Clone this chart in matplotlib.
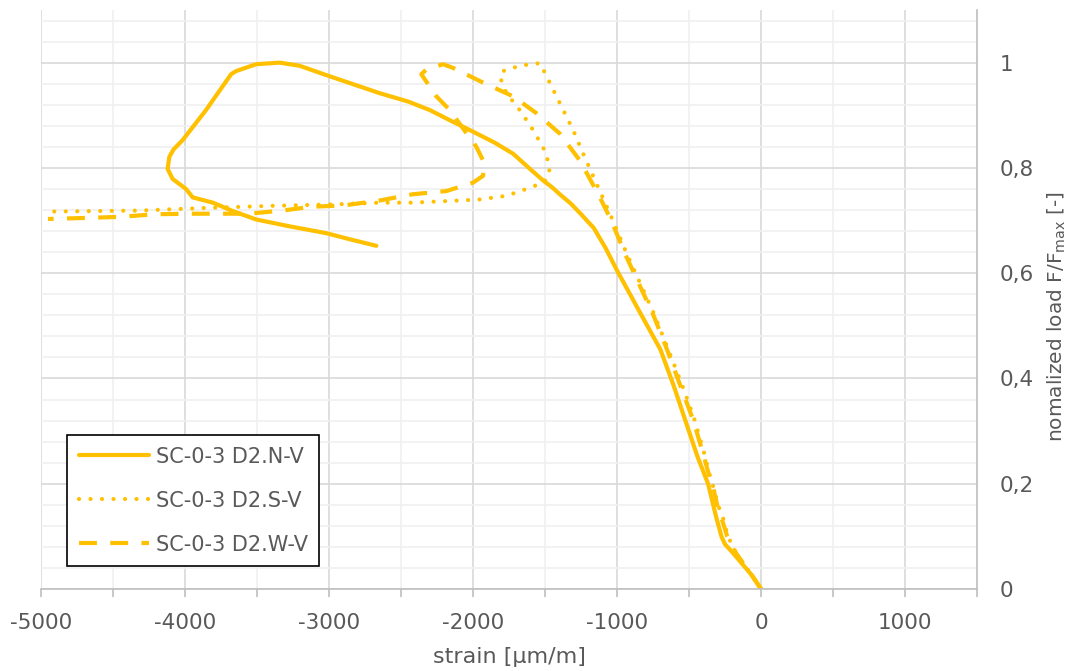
import matplotlib
matplotlib.use("Agg")
import matplotlib.pyplot as plt
from matplotlib.ticker import MultipleLocator, FuncFormatter

# strain [µm/m] vs normalized load
nv_x = [0, -60, -132, -200, -250, -274, -312, -368, -442, -512, -605, -699,
        -838, -1000, -1080, -1162, -1250, -1320, -1394, -1450, -1513, -1600, -1722, -1850,
        -2023, -2150, -2301, -2450, -2649, -2800, -2995, -3204, -3343, -3506, -3645, -3680,
        -3854, -4016, -4080, -4109, -4121, -4086, -3993, -3947, -3807, -3668, -3506, -3274,
        -3019, -2850, -2671]
nv_y = [0, 0.025, 0.048, 0.07, 0.085, 0.099, 0.137, 0.20, 0.252, 0.309, 0.385, 0.455,
        0.524, 0.605, 0.648, 0.686, 0.712, 0.732, 0.749, 0.763, 0.776, 0.797, 0.827, 0.848,
        0.872, 0.889, 0.910, 0.926, 0.942, 0.956, 0.974, 0.994, 1.0, 0.997, 0.984, 0.978,
        0.910, 0.853, 0.835, 0.821, 0.798, 0.779, 0.760, 0.744, 0.734, 0.718, 0.702, 0.689,
        0.676, 0.664, 0.652]

sv_x = [0, -50, -93, -140, -186, -230, -267, -300, -326, -360, -395, -460, -535, -653, -745,
        -838, -931, -1046, -1139, -1235, -1305, -1374, -1444, -1513, -1536, -1600, -1676, -1791,
        -1815, -1768, -1676, -1583, -1502, -1467, -1479, -1513, -1629, -1768, -1954, -2185,
        -2417, -2649, -2926, -3390, -3854, -4318, -4965]
sv_y = [0, 0.02, 0.037, 0.055, 0.075, 0.10, 0.138, 0.16, 0.189, 0.22, 0.258, 0.32, 0.378, 0.461,
        0.524, 0.580, 0.636, 0.711, 0.768, 0.827, 0.872, 0.910, 0.949, 0.987, 0.999, 0.997,
        0.994, 0.984, 0.974, 0.942, 0.910, 0.872, 0.833, 0.801, 0.782, 0.772, 0.760, 0.747,
        0.740, 0.737, 0.734, 0.734, 0.731, 0.728, 0.724, 0.719, 0.717]

wv_x = [0, -50, -95, -140, -190, -235, -275, -305, -330, -365, -400, -470, -545, -660, -750,
        -845, -940, -1040, -1119, -1258, -1397, -1560, -1722, -1930, -2139, -2209, -2324, -2359,
        -2255, -2162, -1977, -1930, -1930, -2000, -2185, -2417, -2650, -2890, -3130, -3321,
        -3561, -3945, -4209, -4448, -4688, -4952]
wv_y = [0, 0.02, 0.038, 0.055, 0.075, 0.10, 0.135, 0.16, 0.19, 0.22, 0.255, 0.32, 0.375, 0.46,
        0.522, 0.578, 0.634, 0.70, 0.744, 0.814, 0.865, 0.904, 0.936, 0.962, 0.990, 0.997,
        0.987, 0.978, 0.936, 0.910, 0.840, 0.814, 0.785, 0.772, 0.756, 0.750, 0.738, 0.729,
        0.726, 0.719, 0.713, 0.713, 0.712, 0.707, 0.705, 0.703]

labels = ["SC-0-3 D2.N-V", "SC-0-3 D2.S-V", "SC-0-3 D2.W-V"]

col = "#FFC000"
txt = "#595959"
plt.rcParams["font.family"] = ["DejaVu Sans"]
plt.rcParams["axes.unicode_minus"] = False

fig = plt.figure(figsize=(10.77, 6.71), dpi=100)
ax = fig.add_axes([0.0381, 0.1222, 0.8691, 0.8629])

ax.plot(nv_x, nv_y, color=col, lw=3, solid_joinstyle="round", solid_capstyle="round",
        label=labels[0])
ax.plot(sv_x, sv_y, color=col, lw=3, linestyle=(0, (0.01, 2.75)),
        dash_capstyle="round", label=labels[1])
ax.plot(wv_x, wv_y, color=col, lw=3, linestyle=(0, (4.3, 3.2)),
        dash_capstyle="butt", label=labels[2])

ax.set_xlim(-5000, 1500)
ax.set_ylim(0, 1.1)
ax.xaxis.set_major_locator(MultipleLocator(1000))
ax.xaxis.set_minor_locator(MultipleLocator(500))
ax.yaxis.set_major_locator(MultipleLocator(0.2))
ax.yaxis.set_minor_locator(MultipleLocator(0.04))
ax.set_yticks([0, 0.2, 0.4, 0.6, 0.8, 1.0])

def fmt(v, pos):
    if abs(v) < 1e-9:
        return "0"
    if abs(v - 1) < 1e-9:
        return "1"
    return ("%.1f" % v).replace(".", ",")

ax.yaxis.set_major_formatter(FuncFormatter(fmt))
ax.yaxis.tick_right()
ax.yaxis.set_label_position("right")

ax.grid(which="major", color="#d9d9d9", lw=1.2)
ax.grid(which="minor", color="#f0f0f0", lw=1.2)
ax.set_axisbelow(True)

for s in ["top", "left"]:
    ax.spines[s].set_visible(False)
for s in ["bottom", "right"]:
    ax.spines[s].set_color("#bfbfbf")
    ax.spines[s].set_linewidth(1.2)

ax.tick_params(axis="x", which="both", length=6, width=1.2, color="#bfbfbf",
               labelsize=15.5, labelcolor=txt, pad=11)
ax.tick_params(axis="y", which="both", length=0, labelsize=15.5, labelcolor=txt, pad=16)

ax.set_xlabel("strain [µm/m]", fontsize=16, color=txt, labelpad=10)
ax.set_ylabel(r"nomalized load F/F$_\mathregular{max}$ [-]", fontsize=14.5, color=txt)
ax.yaxis.set_label_coords(1.0735, 0.47)

leg = ax.legend(loc="lower left", bbox_to_anchor=(0.0278, 0.0397), borderaxespad=0,
                fancybox=False, framealpha=1, edgecolor="black", fontsize=15,
                handlelength=3.4, handletextpad=0.3, labelspacing=1.15,
                borderpad=0.55, labelcolor=txt)
leg.get_frame().set_linewidth(1.2)

fig.savefig("out.png", dpi=100)
